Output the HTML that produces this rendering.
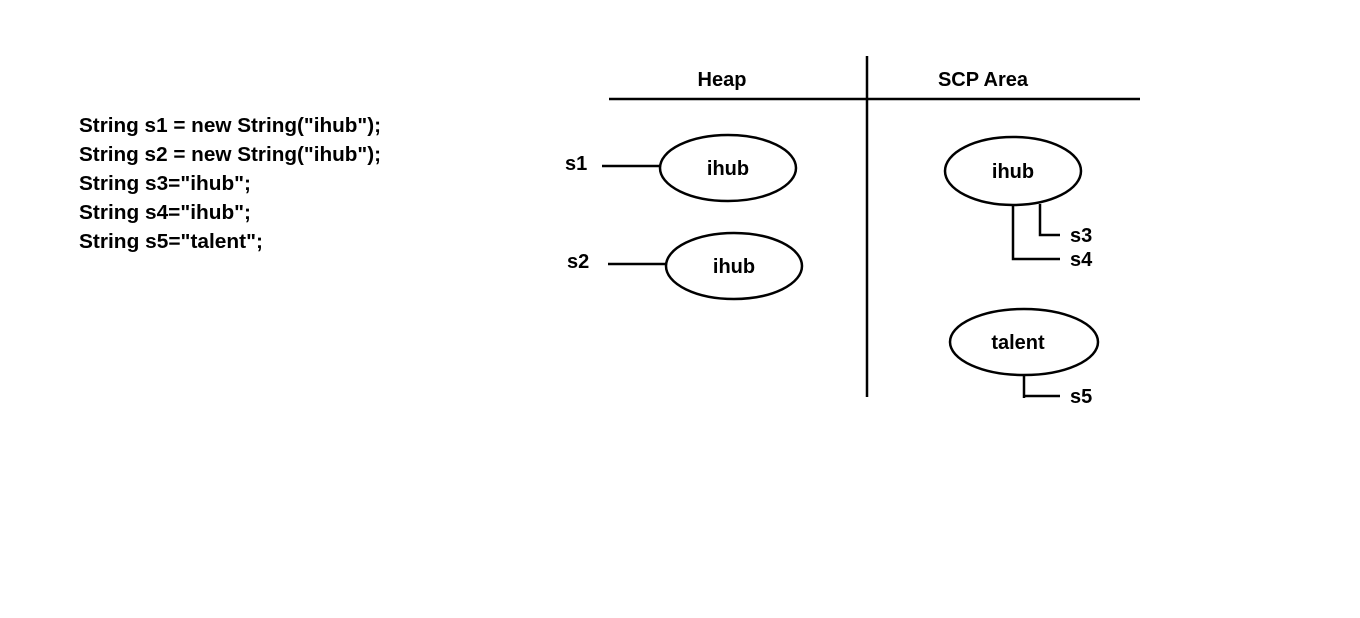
<!DOCTYPE html>
<html><head><meta charset="utf-8"><style>
body{margin:0;background:#fff;width:1360px;height:613px;overflow:hidden}
</style></head><body>
<svg width="1360" height="613" xmlns="http://www.w3.org/2000/svg" font-family="Liberation Sans, sans-serif" font-weight="bold" font-size="20">
<g fill="#000">
<text x="79" y="132" textLength="302" lengthAdjust="spacingAndGlyphs">String s1 = new String("ihub");</text>
<text x="79" y="161" textLength="302" lengthAdjust="spacingAndGlyphs">String s2 = new String("ihub");</text>
<text x="79" y="190" textLength="172" lengthAdjust="spacingAndGlyphs">String s3="ihub";</text>
<text x="79" y="219" textLength="172" lengthAdjust="spacingAndGlyphs">String s4="ihub";</text>
<text x="79" y="248" textLength="184" lengthAdjust="spacingAndGlyphs">String s5="talent";</text>
<text x="722" y="86" text-anchor="middle">Heap</text>
<text x="983" y="86" text-anchor="middle">SCP Area</text>
<text x="728" y="175" text-anchor="middle">ihub</text>
<text x="734" y="273" text-anchor="middle">ihub</text>
<text x="1013" y="178" text-anchor="middle">ihub</text>
<text x="1018" y="349" text-anchor="middle">talent</text>
<text x="565" y="170">s1</text>
<text x="567" y="268">s2</text>
<text x="1070" y="242">s3</text>
<text x="1070" y="266">s4</text>
<text x="1070" y="403">s5</text>
</g>
<g stroke="#000" stroke-width="2.5" fill="none">
<line x1="867" y1="56" x2="867" y2="397"/>
<line x1="609" y1="99" x2="1140" y2="99"/>
<ellipse cx="728" cy="168" rx="68" ry="33"/>
<ellipse cx="734" cy="266" rx="68" ry="33"/>
<ellipse cx="1013" cy="171" rx="68" ry="34"/>
<ellipse cx="1024" cy="342" rx="74" ry="33"/>
<line x1="602" y1="166" x2="660" y2="166"/>
<line x1="608" y1="264" x2="666" y2="264"/>
<polyline points="1040,204 1040,235 1060,235"/>
<polyline points="1013,205 1013,259 1060,259"/>
<polyline points="1024,375 1024,398"/>
<line x1="1024" y1="396" x2="1060" y2="396"/>
</g>
</svg>
</body></html>
